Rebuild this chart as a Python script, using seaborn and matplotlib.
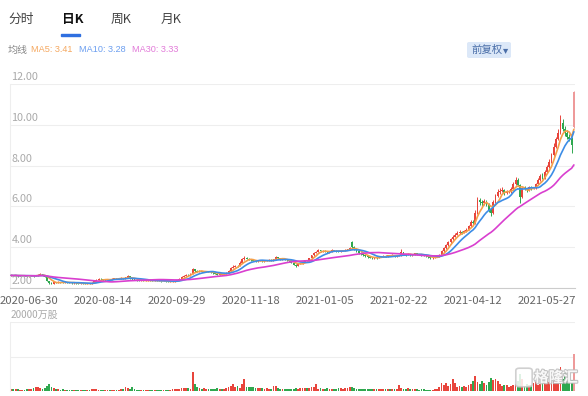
import numpy as np
import pandas as pd
import matplotlib
matplotlib.use("Agg")
import matplotlib.pyplot as plt
import seaborn as sns
from matplotlib.patches import Rectangle, FancyBboxPatch
import matplotlib.patheffects as pe

# ---------------- data ----------------
closes = [
    2.62, 2.60, 2.63, 2.58, 2.60, 2.61, 2.59, 2.57, 2.60, 2.62,
    2.58, 2.60, 2.65, 2.68, 2.62, 2.55, 2.35, 2.25, 2.22, 2.28,
    2.26, 2.30, 2.28, 2.26, 2.30, 2.27, 2.25, 2.24, 2.26, 2.23,
    2.22, 2.24, 2.21, 2.20, 2.22, 2.21, 2.25, 2.32, 2.40, 2.45,
    2.42, 2.38, 2.40, 2.43, 2.41, 2.45, 2.48, 2.44, 2.47, 2.50,
    2.46, 2.52, 2.58, 2.48, 2.42, 2.40, 2.38, 2.36, 2.37, 2.35,
    2.36, 2.38, 2.36, 2.35, 2.37, 2.36, 2.34, 2.33, 2.35, 2.32,
    2.30, 2.31, 2.32, 2.34, 2.38, 2.45, 2.55, 2.60, 2.65, 2.62,
    2.70, 2.92, 2.85, 2.80, 2.83, 2.78, 2.80, 2.82, 2.79, 2.76,
    2.72, 2.70, 2.66, 2.68, 2.65, 2.70, 2.75, 2.85, 3.00, 3.05,
    3.10, 3.08, 3.25, 3.40, 3.48, 3.42, 3.38, 3.35, 3.32, 3.30,
    3.33, 3.35, 3.30, 3.32, 3.36, 3.38, 3.35, 3.40, 3.52, 3.45,
    3.40, 3.42, 3.38, 3.35, 3.30, 3.25, 3.15, 3.10, 3.18, 3.22,
    3.28, 3.35, 3.30, 3.45, 3.60, 3.72, 3.78, 3.85, 3.80, 3.82,
    3.78, 3.75, 3.80, 3.86, 3.83, 3.80, 3.78, 3.82, 3.85, 3.88,
    3.90, 3.95, 4.02, 3.92, 3.80, 3.72, 3.65, 3.60, 3.55, 3.50,
    3.48, 3.45, 3.50, 3.47, 3.52, 3.55, 3.58, 3.56, 3.60, 3.58,
    3.62, 3.55, 3.58, 3.60, 3.75, 3.65, 3.62, 3.68, 3.60, 3.63,
    3.70, 3.66, 3.62, 3.60, 3.58, 3.55, 3.50, 3.45, 3.48, 3.52,
    3.55, 3.62, 3.80, 3.95, 4.10, 4.25, 4.40, 4.50, 4.62, 4.70,
    4.75, 4.72, 4.80, 4.85, 5.05, 5.25, 5.20, 5.70, 6.30, 6.20,
    6.15, 6.25, 6.10, 5.80, 5.70, 6.20, 6.50, 6.70, 6.75, 6.80,
    6.65, 6.70, 6.72, 6.85, 7.10, 7.30, 7.05, 6.45, 6.90, 6.85,
    6.80, 6.95, 6.88, 6.90, 7.10, 7.30, 7.50, 7.40, 7.70, 7.95,
    8.20, 8.50, 8.90, 9.30, 9.60, 10.10, 9.80, 9.60, 9.40, 9.30,
    9.00, 11.60,
]
opens = [
    2.60, 2.63, 2.60, 2.63, 2.58, 2.59, 2.61, 2.59, 2.57, 2.59,
    2.62, 2.58, 2.59, 2.64, 2.68, 2.62, 2.55, 2.34, 2.26, 2.22,
    2.29, 2.26, 2.30, 2.28, 2.26, 2.30, 2.27, 2.25, 2.23, 2.26,
    2.23, 2.21, 2.24, 2.21, 2.20, 2.22, 2.21, 2.25, 2.31, 2.39,
    2.45, 2.42, 2.37, 2.40, 2.43, 2.41, 2.45, 2.48, 2.44, 2.47,
    2.50, 2.46, 2.51, 2.58, 2.48, 2.42, 2.40, 2.38, 2.36, 2.37,
    2.35, 2.36, 2.38, 2.36, 2.35, 2.37, 2.36, 2.34, 2.33, 2.35,
    2.32, 2.30, 2.31, 2.32, 2.34, 2.38, 2.45, 2.56, 2.60, 2.65,
    2.62, 2.70, 2.92, 2.85, 2.80, 2.83, 2.78, 2.80, 2.82, 2.79,
    2.76, 2.72, 2.70, 2.66, 2.68, 2.65, 2.70, 2.75, 2.85, 3.00,
    3.05, 3.10, 3.08, 3.25, 3.40, 3.48, 3.42, 3.38, 3.35, 3.32,
    3.30, 3.33, 3.35, 3.30, 3.32, 3.36, 3.38, 3.35, 3.40, 3.52,
    3.45, 3.40, 3.42, 3.38, 3.35, 3.30, 3.25, 3.15, 3.10, 3.18,
    3.22, 3.28, 3.35, 3.30, 3.45, 3.60, 3.72, 3.78, 3.85, 3.80,
    3.82, 3.78, 3.75, 3.80, 3.86, 3.83, 3.80, 3.78, 3.82, 3.85,
    3.88, 3.90, 4.25, 4.02, 3.92, 3.80, 3.72, 3.65, 3.60, 3.55,
    3.50, 3.48, 3.45, 3.50, 3.47, 3.52, 3.55, 3.58, 3.56, 3.60,
    3.58, 3.62, 3.55, 3.58, 3.60, 3.75, 3.65, 3.62, 3.68, 3.60,
    3.63, 3.70, 3.66, 3.62, 3.60, 3.58, 3.55, 3.50, 3.45, 3.48,
    3.52, 3.55, 3.62, 3.80, 3.95, 4.10, 4.25, 4.40, 4.50, 4.62,
    4.70, 4.75, 4.72, 4.80, 4.85, 5.05, 5.25, 5.20, 5.70, 6.30,
    6.20, 6.15, 6.25, 6.10, 5.80, 5.70, 6.20, 6.50, 6.70, 6.75,
    6.80, 6.65, 6.70, 6.72, 6.85, 7.10, 7.30, 7.05, 6.45, 6.90,
    6.85, 6.80, 6.95, 6.88, 6.90, 7.10, 7.30, 7.50, 7.40, 7.70,
    7.95, 8.20, 8.50, 8.90, 9.30, 9.60, 10.10, 9.80, 9.60, 9.40,
    9.30, 9.90,
]
highs = [
    2.64, 2.64, 2.65, 2.64, 2.62, 2.63, 2.62, 2.60, 2.62, 2.64,
    2.63, 2.62, 2.68, 2.72, 2.69, 2.64, 2.56, 2.36, 2.28, 2.30,
    2.30, 2.32, 2.31, 2.29, 2.32, 2.31, 2.28, 2.27, 2.28, 2.27,
    2.25, 2.26, 2.25, 2.23, 2.24, 2.24, 2.27, 2.34, 2.42, 2.48,
    2.47, 2.43, 2.42, 2.45, 2.45, 2.47, 2.50, 2.49, 2.49, 2.53,
    2.51, 2.55, 2.64, 2.59, 2.50, 2.44, 2.42, 2.40, 2.39, 2.38,
    2.38, 2.40, 2.39, 2.38, 2.39, 2.38, 2.37, 2.36, 2.37, 2.36,
    2.33, 2.33, 2.34, 2.36, 2.40, 2.48, 2.58, 2.63, 2.70, 2.67,
    2.74, 3.00, 2.95, 2.87, 2.86, 2.85, 2.83, 2.85, 2.84, 2.81,
    2.77, 2.74, 2.72, 2.70, 2.69, 2.72, 2.78, 2.88, 3.05, 3.12,
    3.15, 3.14, 3.30, 3.45, 3.55, 3.50, 3.45, 3.40, 3.38, 3.35,
    3.36, 3.38, 3.37, 3.35, 3.39, 3.41, 3.40, 3.43, 3.58, 3.54,
    3.47, 3.45, 3.44, 3.40, 3.37, 3.32, 3.27, 3.17, 3.21, 3.25,
    3.31, 3.38, 3.37, 3.48, 3.64, 3.76, 3.82, 3.90, 3.88, 3.85,
    3.84, 3.80, 3.83, 3.90, 3.88, 3.85, 3.82, 3.85, 3.88, 3.91,
    3.93, 3.99, 4.32, 4.05, 3.95, 3.83, 3.75, 3.68, 3.63, 3.58,
    3.53, 3.50, 3.53, 3.52, 3.55, 3.58, 3.61, 3.60, 3.63, 3.62,
    3.65, 3.63, 3.60, 3.63, 3.90, 3.77, 3.68, 3.71, 3.69, 3.66,
    3.73, 3.71, 3.68, 3.64, 3.62, 3.60, 3.57, 3.52, 3.50, 3.54,
    3.58, 3.66, 3.85, 4.00, 4.15, 4.32, 4.45, 4.58, 4.68, 4.78,
    4.82, 4.80, 4.85, 4.92, 5.10, 5.35, 5.32, 5.80, 6.45, 6.40,
    6.30, 6.35, 6.30, 6.15, 5.90, 6.30, 6.60, 6.85, 6.90, 6.95,
    6.85, 6.78, 6.80, 6.95, 7.20, 7.45, 7.40, 7.10, 6.95, 6.98,
    6.92, 7.00, 7.00, 6.95, 7.15, 7.40, 7.60, 7.65, 7.80, 8.05,
    8.30, 8.60, 9.10, 9.40, 9.80, 10.50, 10.30, 9.95, 9.75, 9.55,
    9.40, 11.65,
]
lows = [
    2.58, 2.58, 2.59, 2.56, 2.57, 2.58, 2.57, 2.55, 2.56, 2.58,
    2.56, 2.57, 2.58, 2.62, 2.60, 2.53, 2.33, 2.22, 2.19, 2.21,
    2.24, 2.25, 2.26, 2.24, 2.25, 2.25, 2.23, 2.22, 2.22, 2.21,
    2.20, 2.20, 2.19, 2.18, 2.19, 2.19, 2.20, 2.24, 2.30, 2.37,
    2.40, 2.36, 2.35, 2.38, 2.39, 2.40, 2.44, 2.42, 2.43, 2.45,
    2.44, 2.45, 2.50, 2.46, 2.40, 2.38, 2.36, 2.34, 2.35, 2.33,
    2.34, 2.35, 2.34, 2.33, 2.34, 2.34, 2.32, 2.31, 2.32, 2.30,
    2.28, 2.29, 2.29, 2.31, 2.33, 2.37, 2.44, 2.53, 2.58, 2.60,
    2.61, 2.69, 2.80, 2.77, 2.78, 2.76, 2.76, 2.78, 2.77, 2.74,
    2.70, 2.68, 2.63, 2.64, 2.63, 2.64, 2.68, 2.73, 2.83, 2.98,
    3.03, 3.05, 3.06, 3.22, 3.38, 3.40, 3.36, 3.33, 3.30, 3.28,
    3.29, 3.31, 3.28, 3.28, 3.30, 3.34, 3.33, 3.33, 3.38, 3.43,
    3.38, 3.38, 3.36, 3.33, 3.28, 3.22, 3.12, 3.05, 3.08, 3.16,
    3.20, 3.26, 3.28, 3.28, 3.43, 3.58, 3.70, 3.76, 3.78, 3.78,
    3.76, 3.72, 3.73, 3.78, 3.81, 3.78, 3.75, 3.76, 3.80, 3.83,
    3.86, 3.88, 3.98, 3.88, 3.77, 3.69, 3.62, 3.57, 3.52, 3.47,
    3.45, 3.41, 3.43, 3.44, 3.45, 3.50, 3.53, 3.54, 3.54, 3.56,
    3.56, 3.52, 3.53, 3.56, 3.58, 3.62, 3.58, 3.60, 3.58, 3.58,
    3.61, 3.63, 3.60, 3.57, 3.55, 3.52, 3.47, 3.40, 3.43, 3.46,
    3.50, 3.53, 3.60, 3.78, 3.92, 4.05, 4.22, 4.36, 4.48, 4.58,
    4.65, 4.66, 4.70, 4.76, 4.82, 5.00, 5.10, 5.15, 5.65, 6.05,
    6.00, 6.05, 6.02, 5.72, 5.55, 5.65, 6.15, 6.45, 6.62, 6.70,
    6.55, 6.60, 6.65, 6.68, 6.80, 7.05, 7.00, 6.15, 6.40, 6.78,
    6.72, 6.76, 6.82, 6.84, 6.86, 7.05, 7.25, 7.32, 7.35, 7.62,
    7.90, 8.15, 8.45, 8.85, 9.25, 9.55, 9.70, 9.45, 9.30, 9.20,
    8.60, 9.85,
]
volumes = [  # 万股
    700, 600, 500, 450, 300, 350, 400, 500, 600, 700,
    800, 1100, 1200, 900, 600, 900, 1500, 2000, 1200, 800,
    600, 500, 400, 450, 350, 300, 400, 350, 300, 250,
    300, 250, 300, 280, 320, 350, 500, 700, 600, 400,
    350, 300, 400, 350, 300, 280, 350, 300, 400, 600,
    500, 1200, 900, 600, 1200, 500, 400, 350, 300, 350,
    400, 300, 280, 300, 350, 320, 300, 280, 300, 350,
    400, 380, 450, 450, 500, 700, 900, 1000, 800, 900,
    700, 5600, 2000, 1200, 900, 700, 800, 600, 700, 500,
    600, 700, 800, 600, 500, 700, 900, 1200, 1500, 2100,
    1200, 1500, 1000, 1900, 3400, 1300, 1100, 1300, 1100, 1000,
    900, 800, 900, 700, 800, 600, 700, 1400, 1500, 800,
    600, 700, 600, 500, 600, 700, 600, 800, 700, 900,
    800, 900, 1000, 900, 1100, 1300, 2100, 700, 800, 600,
    700, 800, 600, 700, 650, 700, 800, 900, 700, 750,
    900, 1100, 1200, 800, 600, 700, 650, 600, 700, 550,
    600, 500, 650, 700, 600, 550, 600, 500, 650, 700,
    600, 550, 700, 1800, 900, 600, 700, 800, 600, 700,
    600, 500, 400, 450, 500, 400, 350, 300, 400, 500,
    700, 1200, 2200, 1700, 2400, 1500, 2000, 3400, 2200, 1300,
    1500, 1200, 1400, 1300, 1600, 2000, 3000, 4400, 2600, 2000,
    3000, 2200, 1800, 2500, 3800, 3200, 3500, 2800, 2000, 1500,
    1800, 1600, 1300, 1500, 1800, 2000, 3000, 5000, 3500, 1500,
    2000, 1800, 1600, 2200, 2500, 1800, 2000, 2800, 2400, 3000,
    2600, 2500, 2800, 3200, 3600, 6900, 3500, 5300, 3000, 2500,
    3200, 10800,
]
tick_dates = ["2020-06-30", "2020-08-14", "2020-09-29", "2020-11-18",
              "2021-01-05", "2021-02-22", "2021-04-12", "2021-05-27"]
tick_index = [8, 41, 74, 107, 140, 173, 206, 239]
price_ticks = [2, 4, 6, 8, 10, 12]
vol_ticks = [0, 10000, 20000]
ma_windows = [5, 10, 30]
header_ma = ["MA5: 3.41", "MA10: 3.28", "MA30: 3.33"]
tabs = ["分时", "日K", "周K", "月K"]

# ---------------- styling ----------------
sns.set_theme(style="white")
plt.rcParams["font.family"] = ["Noto Sans CJK SC", "DejaVu Sans"]

UP, DOWN = "#e8453c", "#2fa84f"
LAST = "#ee9a9a"
MA_COLORS = {5: "#f4a04a", 10: "#3d8de6", 30: "#d93fcf"}

n = len(closes)
df = pd.DataFrame({"day": np.arange(n), "open": opens, "high": highs,
                   "low": lows, "close": closes, "volume": volumes})
for w in ma_windows:
    df[f"MA{w}"] = df["close"].rolling(w, min_periods=1).mean()
df["up"] = df["close"] >= df["open"]
colors = np.where(df["up"], UP, DOWN).astype(object)
colors[-1] = LAST

W, H = 588, 396
fig = plt.figure(figsize=(W / 100, H / 100), dpi=100)
fig.patch.set_facecolor("white")

def fx(px):
    return px / W

def fy(py):
    return 1 - py / H

ax = fig.add_axes([fx(10), fy(288), 565 / W, (288 - 84) / H])
axv = fig.add_axes([fx(10), fy(391), 565 / W, (391 - 322) / H])

# ---- candles ----
body_lo = np.minimum(df["open"], df["close"])
body_h = np.maximum(np.abs(df["close"] - df["open"]), 0.015)
ax.vlines(df["day"], df["low"], df["high"], colors=list(colors), linewidth=0.7, zorder=2)
ax.bar(df["day"], body_h, bottom=body_lo, width=0.8, color=list(colors), linewidth=0, zorder=2)

# ---- moving averages ----
for w in ma_windows:
    sns.lineplot(data=df, x="day", y=f"MA{w}", ax=ax, color=MA_COLORS[w],
                 linewidth=1.2, zorder=3)

ax.set_xlim(-0.5, n - 0.5)
ax.set_ylim(2, 12)
ax.set_yticks(price_ticks)
ax.set_yticklabels([])
ax.tick_params(axis="y", length=0)
ax.yaxis.grid(True, color="#eeeeee", linewidth=0.8)
ax.set_axisbelow(True)
ax.set_xlabel("")
ax.set_ylabel("")
ax.set_xticks(tick_index)
ax.set_xticklabels(tick_dates, fontsize=8.2, color="#666666")
ax.tick_params(axis="x", length=3, color="#cccccc", width=0.8, pad=2.5)
for s in ["top", "right"]:
    ax.spines[s].set_visible(False)
ax.spines["bottom"].set_color("#cccccc")
ax.spines["bottom"].set_linewidth(0.8)
ax.spines["left"].set_color("#eeeeee")
ax.spines["left"].set_linewidth(0.8)
for v in price_ticks:
    ax.annotate(f"{v:.2f}", xy=(0, v), xycoords=("axes fraction", "data"),
                xytext=(1, 1.5), textcoords="offset points", ha="left", va="bottom",
                fontsize=7.8, color="#aaaaaa")

# ---- volume ----
axv.bar(df["day"], df["volume"], width=0.8, color=list(colors), linewidth=0)
axv.set_xlim(-0.5, n - 0.5)
axv.set_ylim(0, 20000)
axv.set_yticks(vol_ticks)
axv.set_yticklabels([])
axv.set_xticks([])
axv.tick_params(axis="y", length=0)
axv.yaxis.grid(True, color="#eeeeee", linewidth=0.8)
axv.set_axisbelow(True)
for s in ["top", "right", "bottom"]:
    axv.spines[s].set_visible(False)
axv.spines["left"].set_color("#eeeeee")
axv.spines["left"].set_linewidth(0.8)
fig.text(fx(11), fy(315), f"{vol_ticks[-1]}万股", fontsize=7.2, color="#aaaaaa",
         ha="left", va="center")

# watermark
fig.patches.append(FancyBboxPatch((fx(517), fy(386)), 14 / W, 17 / H,
                                  boxstyle="round,pad=0.002,rounding_size=0.006",
                                  transform=fig.transFigure, facecolor="white",
                                  edgecolor="#c8c8c8", linewidth=1.2, alpha=0.85))
wm = fig.text(fx(534), fy(377), "格隆汇", fontsize=10.5, color="white", ha="left",
              va="center", fontweight="bold", alpha=0.9)
wm.set_path_effects([pe.withStroke(linewidth=1.6, foreground="#bdbdbd")])

# ---------------- header ----------------
tab_x = [8, 62, 111, 161]
for t, x in zip(tabs, tab_x):
    active = t == "日K"
    fig.text(fx(x), fy(19), t, fontsize=9.2, ha="left", va="center",
             color="#111111" if active else "#444444",
             fontweight="bold" if active else "normal")
fig.patches.append(Rectangle((fx(61), fy(36)), 19 / W, 2.5 / H,
                             transform=fig.transFigure, color="#2f6fe0"))

fig.text(fx(8), fy(50), "均线", fontsize=7.2, color="#888888", ha="left", va="center")
for s, x, c in zip(header_ma, [31, 79, 132], ["#f5a860", "#6c9ff0", "#e27bd9"]):
    fig.text(fx(x), fy(50), s, fontsize=6.6, color=c, ha="left", va="center",
             family=["Liberation Sans", "DejaVu Sans"])

fig.patches.append(FancyBboxPatch((fx(467), fy(58)), 44 / W, 16 / H,
                                  boxstyle="round,pad=0,rounding_size=0.004",
                                  transform=fig.transFigure, facecolor="#dce8f8",
                                  edgecolor="none"))
fig.text(fx(471), fy(50), "前复权", fontsize=7.5, color="#4a6ea8", ha="left", va="center")
fig.text(fx(503), fy(50), "▾", fontsize=7.5, color="#4a6ea8", ha="left", va="center",
         family=["DejaVu Sans"])

fig.savefig("out.png", dpi=100, facecolor="white")
